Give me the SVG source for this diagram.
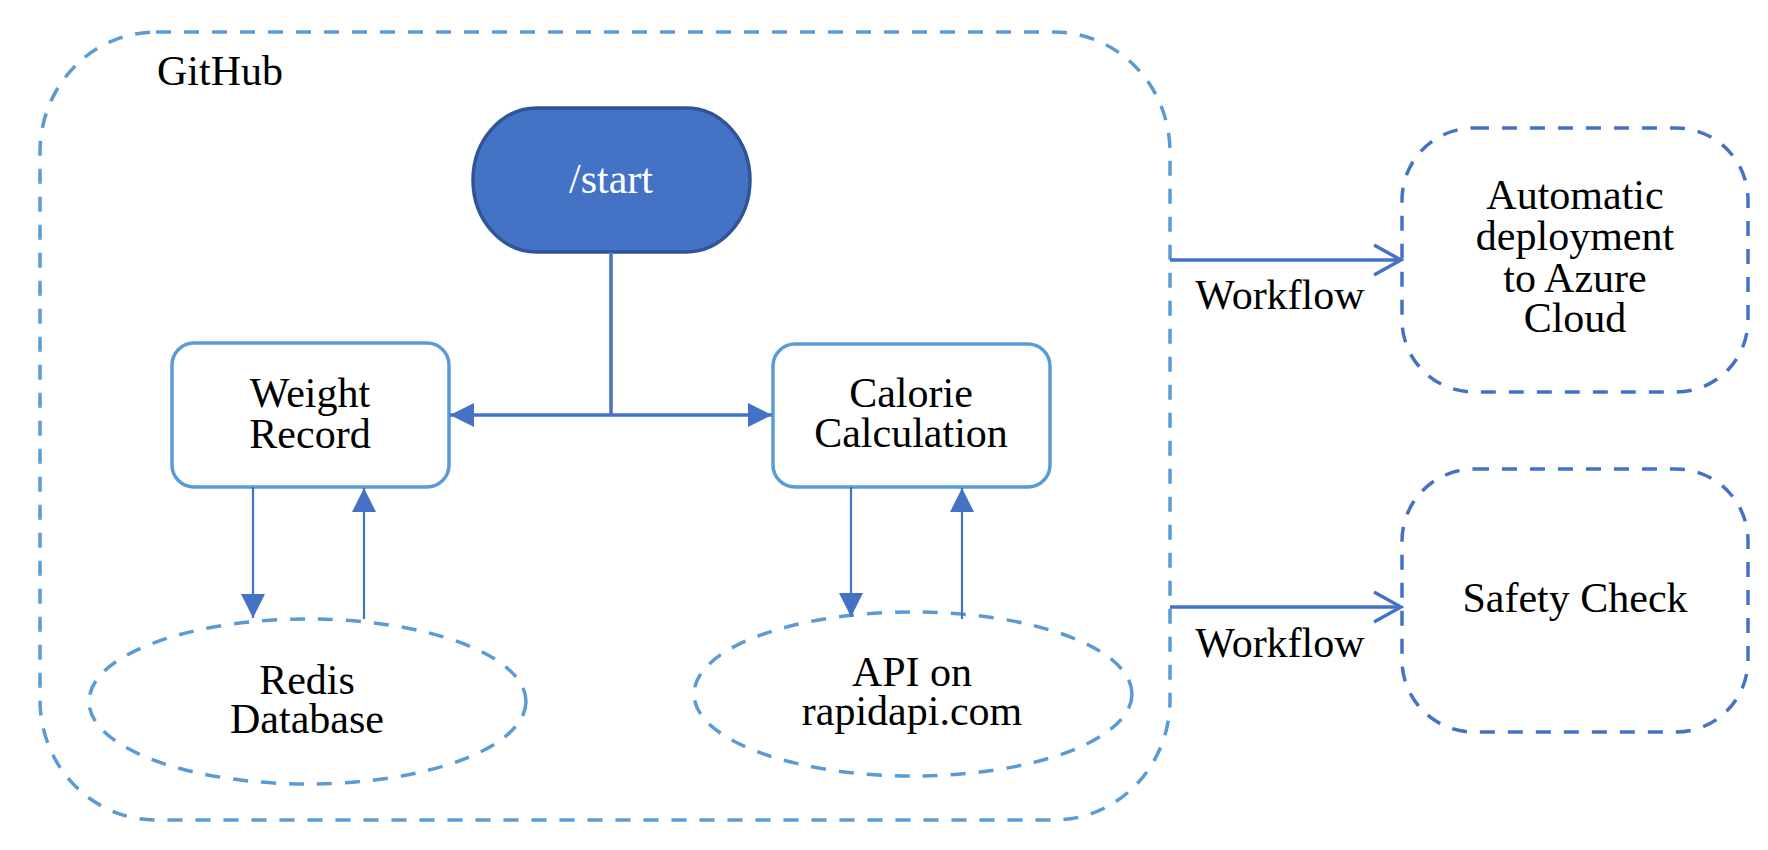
<svg xmlns="http://www.w3.org/2000/svg" width="1768" height="850" viewBox="0 0 1768 850">
<style>
text{font-family:"Liberation Serif","Times New Roman",serif;font-size:42px;fill:#000;text-anchor:middle}
.dash{fill:none;stroke:#5B9BD5;stroke-width:3.5;stroke-dasharray:15 13}
.dash2{fill:none;stroke:#4472C4;stroke-width:3.5;stroke-dasharray:15 13}
.box{fill:#fff;stroke:#5B9BD5;stroke-width:3.5}
.con{fill:none;stroke:#4472C4;stroke-width:3.5}
.thin{fill:none;stroke:#4472C4;stroke-width:2.2}
</style>
<defs>
<marker id="tri" viewBox="0 0 24 24" refX="24" refY="12" markerWidth="24" markerHeight="24" markerUnits="userSpaceOnUse" orient="auto-start-reverse"><path d="M0,0 L24,12 L0,24 z" fill="#4472C4"/></marker>
<marker id="open" viewBox="0 0 32 34" refX="29" refY="17" markerWidth="32" markerHeight="34" markerUnits="userSpaceOnUse" orient="auto"><path d="M2,2 L29,17 L2,32" fill="none" stroke="#4472C4" stroke-width="3.5"/></marker>
</defs>
<rect width="1768" height="850" fill="#fff"/>
<g id="github">
<rect x="40" y="32" width="1130" height="788" rx="116" ry="120" class="dash"/>
<text x="220" y="85">GitHub</text>
</g>
<g id="start">
<rect x="473" y="108" width="277" height="144" rx="64" ry="72" fill="#4472C4" stroke="#2F5597" stroke-width="3.5"/>
<text x="611" y="193" style="fill:#fff">/start</text>
</g>
<g id="weight">
<rect x="172" y="343" width="277" height="144" rx="22" class="box"/>
<text x="310" y="407">Weight</text>
<text x="310" y="448">Record</text>
</g>
<g id="calorie">
<rect x="773" y="344" width="277" height="143" rx="22" class="box"/>
<text x="911" y="407">Calorie</text>
<text x="911" y="447">Calculation</text>
</g>
<g id="redis">
<ellipse cx="307.5" cy="701.5" rx="218.5" ry="82.5" class="dash"/>
<text x="307" y="694">Redis</text>
<text x="307" y="733">Database</text>
</g>
<g id="api">
<ellipse cx="913" cy="694" rx="219" ry="82" class="dash"/>
<text x="912" y="686">API on</text>
<text x="912" y="725">rapidapi.com</text>
</g>
<g id="deploy">
<rect x="1402" y="128" width="346" height="264" rx="72" ry="72" class="dash2"/>
<text x="1575" y="209">Automatic</text>
<text x="1575" y="250">deployment</text>
<text x="1575" y="292">to Azure</text>
<text x="1575" y="332">Cloud</text>
</g>
<g id="safety">
<rect x="1402" y="469" width="346" height="263" rx="72" ry="72" class="dash2"/>
<text x="1575" y="612">Safety Check</text>
</g>
<g id="connectors">
<path d="M611,252 V415" class="con"/>
<path d="M450,415 H772" class="con" marker-start="url(#tri)" marker-end="url(#tri)"/>
<path d="M253,487 V618" class="thin" marker-end="url(#tri)"/>
<path d="M364,619 V488" class="thin" marker-end="url(#tri)"/>
<path d="M851,487 V617" class="thin" marker-end="url(#tri)"/>
<path d="M962,619 V488" class="thin" marker-end="url(#tri)"/>
<path d="M1170,260 H1401" class="con" marker-end="url(#open)"/>
<path d="M1170,607 H1401" class="con" marker-end="url(#open)"/>
<text x="1280" y="309">Workflow</text>
<text x="1280" y="657">Workflow</text>
</g>
</svg>
